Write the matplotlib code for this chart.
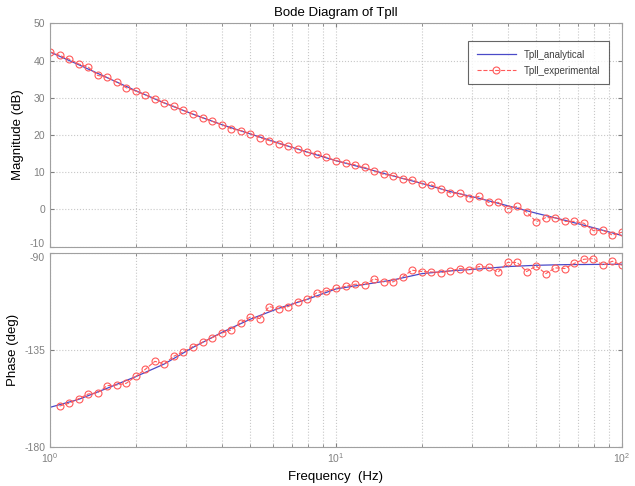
import numpy as np
import matplotlib
matplotlib.use("Agg")
import matplotlib.pyplot as plt
import matplotlib.transforms as mtransforms
from matplotlib.ticker import LogLocator, NullFormatter

plt.rcParams['font.family'] = ['Liberation Sans', 'DejaVu Sans']
plt.rcParams['axes.unicode_minus'] = False

# measurement frequencies (Hz), 30 per decade
freq = [1.000, 1.080, 1.166, 1.259, 1.359, 1.468, 1.585, 1.711, 1.848, 1.995,
        2.154, 2.326, 2.512, 2.712, 2.929, 3.162, 3.415, 3.687, 3.981, 4.299,
        4.642, 5.012, 5.412, 5.843, 6.310, 6.813, 7.356, 7.943, 8.577, 9.261,
        10.00, 10.80, 11.66, 12.59, 13.59, 14.68, 15.85, 17.11, 18.48, 19.95,
        21.54, 23.26, 25.12, 27.12, 29.29, 31.62, 34.15, 36.87, 39.81, 42.99,
        46.42, 50.12, 54.12, 58.43, 63.10, 68.13, 73.56, 79.43, 85.77, 92.61,
        100.0]

mag_exp = [42.35, 41.4, 40.4, 39.1, 38.3, 36.0, 35.5, 34.2, 32.7, 31.8,
           30.8, 29.8, 28.6, 27.7, 26.6, 25.6, 24.6, 23.7, 22.8, 21.7,
           21.2, 20.4, 19.3, 18.5, 17.7, 17.0, 16.3, 15.4, 14.9, 14.0,
           13.1, 12.5, 12.0, 11.3, 10.3, 9.4, 9.1, 8.3, 7.9, 6.9,
           6.6, 5.6, 4.4, 4.3, 3.1, 3.5, 1.9, 1.9, 0.25, 0.8,
           -0.7, -3.3, -2.2, -2.2, -3.2, -3.2, -3.7, -5.7, -5.6, -6.9,
           -6.1]

phase_exp = [np.nan, -161.1, -159.8, -157.7, -155.5, -154.9, -151.6, -151.3, -150.5, -147.3,
             -144.0, -140.3, -141.4, -137.9, -135.8, -133.4, -131.4, -129.3, -127.2, -125.7,
             -122.3, -119.7, -120.4, -114.8, -115.8, -114.8, -112.5, -111.4, -108.3, -107.5,
             -106.3, -105.4, -104.4, -104.7, -101.9, -103.3, -103.3, -100.9, -97.9, -98.5,
             -98.7, -99.0, -98.2, -97.1, -97.6, -96.2, -96.5, -98.8, -94.3, -94.3,
             -98.5, -95.9, -99.5, -96.8, -97.1, -94.7, -92.8, -92.5, -95.6, -93.7,
             -95.6]

# analytical response, read every 0.1 decade
freq_an = [1.000, 1.259, 1.585, 1.995, 2.512, 3.162, 3.981, 5.012, 6.310, 7.943,
           10.00, 12.59, 15.85, 19.95, 25.12, 31.62, 39.81, 50.12, 63.10, 79.43,
           100.0]
mag_an = [42.3, 38.9, 35.4, 31.9, 28.6, 25.6, 22.8, 20.3, 17.8, 15.4,
          13.1, 11.1, 9.0, 7.0, 4.8, 3.0, 1.0, -1.0, -2.9, -4.9,
          -7.0]
phase_an = [-161.7, -158.0, -152.8, -147.4, -141.5, -133.8, -126.9, -120.7, -115.6, -111.4,
            -106.6, -104.5, -102.4, -99.5, -98.2, -97.3, -96.2, -95.6, -95.3, -95.2,
            -95.1]

gray = '#808080'
an_color = '#4a4ac8'
ex_color = '#ff5a5a'

fig = plt.figure(figsize=(6.35, 4.86), dpi=100)
ax1 = fig.add_axes([0.0787, 0.4924, 0.9008, 0.4596])
ax2 = fig.add_axes([0.0787, 0.0809, 0.9008, 0.3980])

for ax in (ax1, ax2):
    ax.set_xscale('log')
    ax.set_xlim(1, 100)
    ax.grid(True, which='both', axis='x', linestyle=':', color='#c8c8c8', linewidth=0.8)
    ax.grid(True, which='major', axis='y', linestyle=':', color='#c8c8c8', linewidth=0.8)
    ax.xaxis.set_minor_locator(LogLocator(base=10, subs=np.arange(2, 10)))
    ax.xaxis.set_minor_formatter(NullFormatter())
    ax.tick_params(which='both', direction='in', top=True, right=True,
                   colors=gray, labelsize=7.5, length=3)
    ax.tick_params(which='minor', length=2)
    for s in ax.spines.values():
        s.set_color('#a0a0a0')

ax1.plot(freq_an, mag_an, color=an_color, linewidth=0.9, label='Tpll_analytical')
ax1.plot(freq, mag_exp, color=ex_color, linestyle='--', linewidth=0.8, marker='o',
         markersize=5, markerfacecolor='none', markeredgewidth=0.8,
         label='Tpll_experimental')
ax1.set_ylim(-10, 50)
ax1.set_yticks([-10, 0, 10, 20, 30, 40, 50])
ax1.tick_params(axis='x', labelbottom=False)
ax1.set_ylabel('Magnitude (dB)', fontsize=9.5)
ax1.set_title('Bode Diagram of Tpll', fontsize=9.5, pad=5)
leg = ax1.legend(loc='upper right', bbox_to_anchor=(0.977, 0.921), borderaxespad=0,
                 fontsize=7, frameon=True, fancybox=False, edgecolor='#404040',
                 handlelength=4, borderpad=0.9, labelspacing=0.6)
leg.get_frame().set_linewidth(0.8)
for t in leg.get_texts():
    t.set_color('#404040')

ax2.plot(freq_an, phase_an, color=an_color, linewidth=0.9)
ax2.plot(freq, phase_exp, color=ex_color, linestyle='--', linewidth=0.8, marker='o',
         markersize=5, markerfacecolor='none', markeredgewidth=0.8)
ax2.set_ylim(-180, -90)
ax2.set_yticks([-180, -135, -90])
ax2.set_ylabel('Phase (deg)', fontsize=9.5)
ax2.set_xlabel('Frequency  (Hz)', fontsize=9.5)

# nudge the -10 / -90 labels apart where the two axes meet
fig.canvas.draw()
up = mtransforms.ScaledTranslation(0, 2.5 / 72, fig.dpi_scale_trans)
down = mtransforms.ScaledTranslation(0, -2.5 / 72, fig.dpi_scale_trans)
for lbl in ax1.get_yticklabels():
    if lbl.get_text() == '-10':
        lbl.set_transform(lbl.get_transform() + up)
for lbl in ax2.get_yticklabels():
    if lbl.get_text() == '-90':
        lbl.set_transform(lbl.get_transform() + down)

fig.savefig('out.png', dpi=100)
